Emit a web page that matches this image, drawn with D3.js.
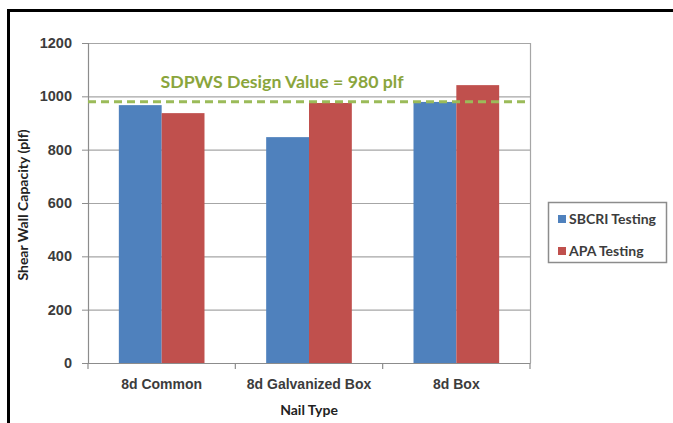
<!DOCTYPE html>
<html><head><meta charset="utf-8">
<script src="https://cdn.jsdelivr.net/npm/d3@7"></script>
<style>html,body{margin:0;padding:0;background:#fff;overflow:hidden}svg{display:block;font-family:Lato,"Open Sans",sans-serif}</style>
</head><body><svg id="c" width="673" height="423"></svg>
<script>
const categories = ["8d Common", "8d Galvanized Box", "8d Box"];
const seriesNames = ["SBCRI Testing", "APA Testing"];
const sbcri = [967, 847, 979];
const apa = [937, 975, 1042];
const designValue = 980;
const yTicks = [0, 200, 400, 600, 800, 1000, 1200];
const colors = ["#4f81bd", "#c0504d"];

const svg = d3.select("#c");
// outer frame (top and left edges visible)
svg.append("line").attr("x1", 8.5).attr("x2", 8.5).attr("y1", 9).attr("y2", 423)
  .attr("stroke", "#000").attr("stroke-width", 3);
svg.append("line").attr("x1", 7).attr("x2", 673).attr("y1", 10.5).attr("y2", 10.5)
  .attr("stroke", "#000").attr("stroke-width", 3);

const L = 88, R = 530, T = 43, B = 363;
const x = d3.scaleBand().domain(categories).range([L, R]);
const xs = d3.scaleBand().domain(seriesNames).range([0, x.bandwidth()]).paddingOuter(0.72).paddingInner(0);
const y = d3.scaleLinear().domain([0, 1200]).range([B, T]);

const axisColor = "#8c8c8c", textColor = "#3c3c3c";

// gridlines
svg.append("g").selectAll("line").data(yTicks.filter(d => d > 0)).join("line")
  .attr("x1", L).attr("x2", R).attr("y1", d => y(d) + 0.5).attr("y2", d => y(d) + 0.5)
  .attr("stroke", "#a6a6a6").attr("stroke-width", 1.2);
// right border
svg.append("line").attr("x1", R + 0.5).attr("x2", R + 0.5).attr("y1", T).attr("y2", B)
  .attr("stroke", "#a6a6a6").attr("stroke-width", 1.2);

// y axis
const ya = svg.append("g").attr("transform", `translate(${L},0)`)
  .call(d3.axisLeft(y).tickValues(yTicks).tickFormat(d3.format("d")).tickSize(6).tickPadding(10));
ya.select(".domain").attr("stroke", axisColor).attr("stroke-width", 1.2);
ya.selectAll(".tick line").attr("stroke", axisColor);
ya.selectAll("text").attr("font-size", 14.5).attr("font-weight", "bold").attr("fill", textColor);

// bars
const data = categories.map((c, i) => ({c, vals: [sbcri[i], apa[i]]}));
const g = svg.append("g");
data.forEach(d => {
  g.selectAll(null).data(d.vals.map((v, j) => ({v, s: seriesNames[j], j}))).join("rect")
    .attr("x", e => x(d.c) + xs(e.s))
    .attr("width", xs.bandwidth())
    .attr("y", e => y(e.v))
    .attr("height", e => B - y(e.v))
    .attr("fill", e => colors[e.j]);
});

// x axis
const xa = svg.append("g").attr("transform", `translate(0,${B})`)
  .call(d3.axisBottom(x).tickSize(0).tickPadding(16));
xa.select(".domain").attr("stroke", axisColor).attr("stroke-width", 1.2);
xa.selectAll("text").attr("font-size", 14).attr("font-weight", "bold").attr("fill", textColor);
const bounds = [L, ...categories.map(c => x(c) + x.bandwidth())];
svg.append("g").selectAll("line").data(bounds).join("line")
  .attr("x1", d => d).attr("x2", d => d).attr("y1", B).attr("y2", B + 6)
  .attr("stroke", axisColor).attr("stroke-width", 1.2);

// design value line
svg.append("line").attr("x1", L).attr("x2", R).attr("y1", y(designValue)).attr("y2", y(designValue))
  .attr("stroke", "#9bbb59").attr("stroke-width", 3).attr("stroke-dasharray", "8,5");
svg.append("text").attr("x", 282).attr("y", 88).attr("text-anchor", "middle")
  .attr("font-size", 17.7).attr("font-weight", "bold").attr("fill", "#8aa53c")
  .text("SDPWS Design Value = " + designValue + " plf");

// axis titles
svg.append("text").attr("transform", `translate(28,205) rotate(-90)`)
  .attr("text-anchor", "middle").attr("font-size", 14).attr("font-weight", "bold").attr("fill", "#222")
  .text("Shear Wall Capacity (plf)");
svg.append("text").attr("x", (L + R) / 2).attr("y", 415).attr("text-anchor", "middle")
  .attr("font-size", 14).attr("font-weight", "bold").attr("fill", "#222").text("Nail Type");

// legend
const lg = svg.append("g");
lg.append("rect").attr("x", 548.5).attr("y", 202.5).attr("width", 118).attr("height", 60)
  .attr("fill", "#fff").attr("stroke", axisColor).attr("stroke-width", 1.5);
seriesNames.forEach((s, i) => {
  const yy = 219 + i * 32;
  lg.append("rect").attr("x", 558).attr("y", yy - 4).attr("width", 8).attr("height", 8).attr("fill", colors[i]);
  lg.append("text").attr("x", 569).attr("y", yy + 5).attr("font-size", 14).attr("font-weight", "bold")
    .attr("fill", textColor).text(s);
});
</script></body></html>
